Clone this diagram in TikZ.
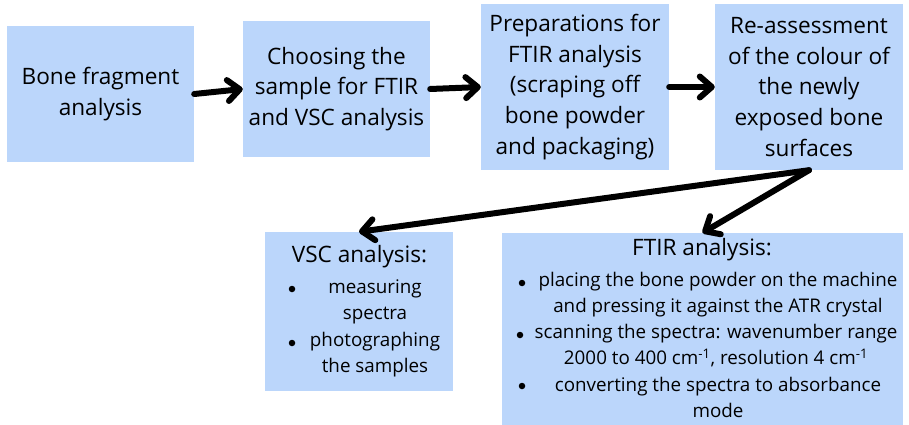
\documentclass[tikz,border=0pt]{standalone}
\usepackage{fontspec}
\setmainfont{Open Sans}
\usetikzlibrary{arrows.meta}
\definecolor{boxblue}{RGB}{187,214,251}
\newcommand\bigtxt{\fontsize{22.6}{30.8}\selectfont}
\newcommand\smalltxt{\fontsize{18.8}{26}\selectfont}
\begin{document}
\begin{tikzpicture}[x=1pt,y=-1pt,
  stepbox/.style={fill=boxblue, inner sep=0pt, align=center, font=\bigtxt},
  title/.style={inner sep=0pt, font=\bigtxt},
  item/.style={inner sep=0pt, align=center, font=\smalltxt},
  dot/.style={circle, fill=black, inner sep=0pt, minimum size=6.5pt},
  flow/.style={line width=6pt, line cap=round, -{Straight Barb[length=12pt,width=21pt,round]}}]
\useasboundingbox (0,0) rectangle (909,425);
\fill[white] (0,0) rectangle (909,425);

% process steps, top row
\node[stepbox, minimum width=187pt, minimum height=136pt] (b1) at (100.5,94)
  {Bone fragment\\analysis};
\node[stepbox, minimum width=187pt, minimum height=136pt] (b2) at (336.5,89)
  {Choosing the\\sample for FTIR\\and VSC analysis};
\node[stepbox, minimum width=188pt, minimum height=166pt] (b3) at (575,87)
  {Preparations for\\FTIR analysis\\(scraping off\\bone powder\\and packaging)};
\node[stepbox, minimum width=188pt, minimum height=166pt] (b4) at (809,87)
  {Re-assessment\\of the colour of\\the newly\\exposed bone\\surfaces};

% analysis boxes, bottom row
\node[stepbox, minimum width=188pt, minimum height=159pt] (vsc) at (359,311.5) {};
\node[stepbox, minimum width=401pt, minimum height=192pt] (ftir) at (702.5,329) {};

% VSC contents
\node[title] (vsct) at (359.5,257) {VSC analysis:};
\node[dot] (vd1) at (292,289) {};
\node[item] (vi1) at (375,301.5) {measuring\\spectra};
\node[dot] (vd2) at (292,343) {};
\node[item] (vi2) at (375,354.5) {photographing\\the samples};

% FTIR contents
\node[title] (ftirt) at (702,250) {FTIR analysis:};
\node[dot] (fd1) at (522,283) {};
\node[item] (fi1) at (718,295) {placing the bone powder on the machine\\and pressing it against the ATR crystal};
\node[dot] (fd2) at (520,335) {};
\node[item] (fi2) at (716,346) {scanning the spectra: wavenumber range\\2000 to 400 cm\textsuperscript{-1}, resolution 4 cm\textsuperscript{-1}};
\node[dot] (fd3) at (522,386) {};
\node[item] (fi3) at (718,397.5) {converting the spectra to absorbance\\mode};

% connectors
\draw[flow] (b1.east) -- (b2.west);
\draw[flow] (b2.east) -- (b3.west);
\draw[flow] (b3.east) -- (b4.west);
\draw[flow] (b4.south) -- (vsc.north);
\draw[flow] (b4.south) -- (ftir.north);
\end{tikzpicture}
\end{document}
